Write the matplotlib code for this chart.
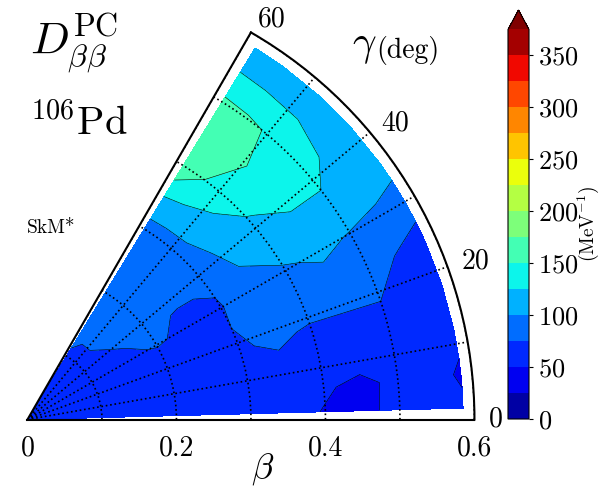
import numpy as np
import matplotlib
matplotlib.use("Agg")
from matplotlib import pyplot as plt

plt.rcParams["font.family"] = "serif"
plt.rcParams["font.serif"] = ["cmr10"]
plt.rcParams["mathtext.fontset"] = "cm"
plt.rcParams["axes.formatter.use_mathtext"] = True

# deformation grid (beta, gamma in degrees)
beta = [0.0, 0.05, 0.10, 0.15, 0.20, 0.25, 0.30, 0.35, 0.40, 0.45, 0.50, 0.55, 0.585]
gamma = [1.5, 6, 12, 18, 24, 30, 36, 42, 48, 54, 58.5]

# D_bb^PC (MeV^-1), one row per gamma value, along beta
d_g01 = [55, 56, 57, 59, 60, 61, 60, 56, 49, 45, 56, 56, 53]
d_g06 = [55, 57, 58, 60, 62, 63, 63, 58, 52, 46, 54, 55, 48]
d_g12 = [56, 58, 60, 62, 64, 66, 69, 71, 64, 60, 62, 58, 54]
d_g18 = [57, 60, 63, 65, 67, 69, 73, 78, 73, 73, 74, 68, 62]
d_g24 = [58, 62, 65, 68, 70, 71, 75, 83, 88, 92, 86, 72, 62]
d_g30 = [60, 64, 68, 72, 76, 73, 74, 87, 97, 104, 99, 95, 88]
d_g36 = [60, 65, 70, 74, 78, 74, 76, 100, 112, 120, 121, 112, 110]
d_g42 = [60, 66, 71, 76, 80, 85, 90, 105, 123, 133, 133, 118, 110]
d_g48 = [60, 67, 72, 78, 82, 86, 90, 116, 136, 147, 147, 121, 112]
d_g54 = [60, 68, 73, 77, 81, 85, 89, 121, 151, 163, 153, 122, 112]
d_g58 = [60, 68, 74, 78, 81, 85, 89, 124, 172, 168, 155, 123, 112]

levels = np.arange(0, 376, 25)
cbar_ticks = np.arange(0, 351, 50)

Z = np.array([d_g01, d_g06, d_g12, d_g18, d_g24, d_g30,
              d_g36, d_g42, d_g48, d_g54, d_g58], dtype=float)
T, R = np.meshgrid(np.deg2rad(gamma), beta, indexing="ij")

fig = plt.figure(figsize=(6, 4.86), dpi=100)
# wedge is drawn at ~0.8635 of the axes box, so enlarge the box around the wedge centre
ax = fig.add_axes([-7.3 / 600, 36.5 / 486, 516.5 / 600, 447 / 486], projection="polar")
ax.set_thetamin(0)
ax.set_thetamax(60)
ax.set_rlim(0, 0.6)

cf = ax.contourf(T, R, Z, levels=levels, cmap="jet", extend="max")
ax.contour(T, R, Z, levels=levels, colors="k", linewidths=0.4)

ax.set_thetagrids(range(0, 61, 10), ["0", "", "20", "", "40", "", "60"], fontsize=20)
for lbl in ax.get_xticklabels():
    lbl.set_horizontalalignment("left")
ax.set_rticks([0, 0.1, 0.2, 0.3, 0.4, 0.5, 0.6])
ax.set_yticklabels(["0", "", "0.2", "", "0.4", "", "0.6"])
ax.tick_params(axis="y", labelsize=20, pad=11)
ax.grid(True, color="k", linestyle=":", linewidth=1.2)
ax.tick_params(length=0)
for sp in ax.spines.values():
    sp.set_linewidth(1.5)

fig.text(30 / 600, 1 - 55 / 486, r"$D^{\rm PC}_{\beta\beta}$", fontsize=33, va="baseline")
fig.text(30 / 600, 1 - 135 / 486, r"$^{106}$Pd", fontsize=29, va="baseline")
fig.text(27 / 600, 1 - 233 / 486, "SkM*", fontsize=14, va="baseline")
fig.text(352 / 600, 1 - 55 / 486, r"$\gamma$", fontsize=30, va="baseline")
fig.text(376 / 600, 1 - 58 / 486, "(deg)", fontsize=20, va="baseline")
fig.text(263 / 600, 1 - 478 / 486, r"$\beta$", fontsize=26, ha="center", va="baseline")

cax = fig.add_axes([508 / 600, 67 / 486, 21 / 600, 409 / 486])
cb = fig.colorbar(cf, cax=cax, ticks=cbar_ticks)
cb.ax.tick_params(labelsize=19, length=3)
cb.set_label(r"(MeV$^{-1}$)", fontsize=14, labelpad=-2)

fig.savefig("out.png", dpi=100)
